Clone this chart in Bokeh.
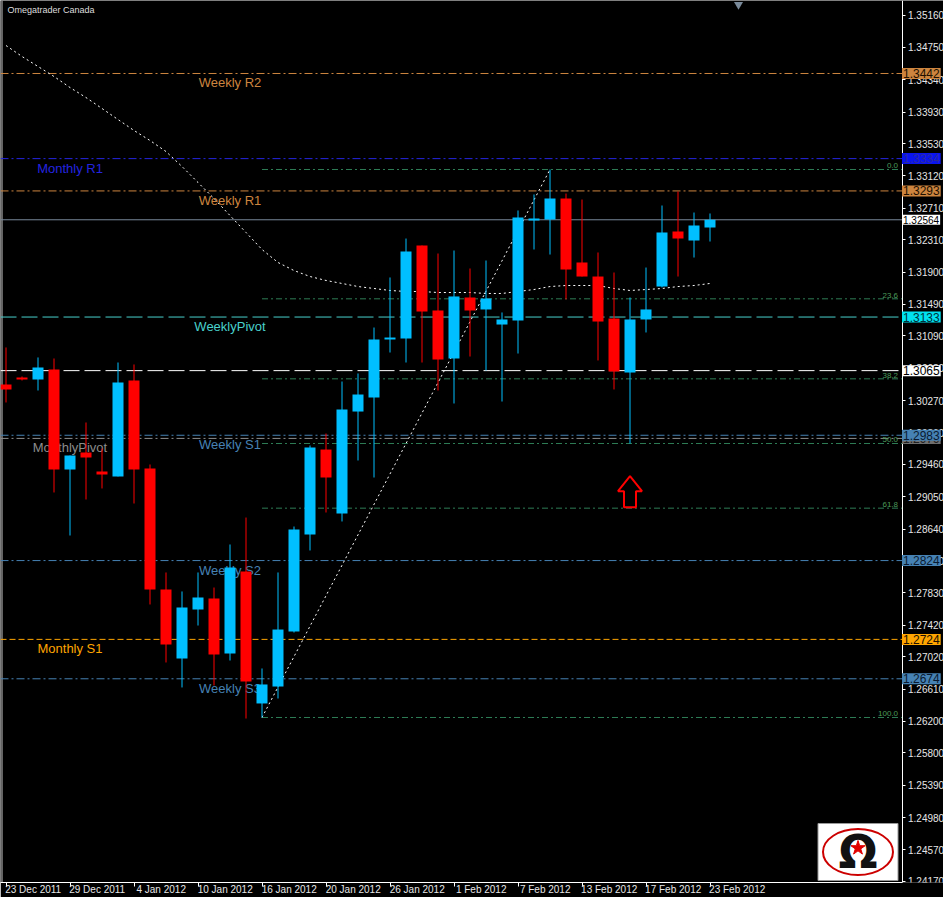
from bokeh.plotting import figure
from bokeh.models import Range1d, LinearAxis, FixedTicker, PrintfTickFormatter, Label, ColumnDataSource
from bokeh.core.properties import value
from bokeh.embed import file_html
from bokeh.resources import INLINE

# ---------------- data ----------------
date_labels = ["23 Dec 2011", "29 Dec 2011", "4 Jan 2012", "10 Jan 2012", "16 Jan 2012", "20 Jan 2012",
               "26 Jan 2012", "1 Feb 2012", "7 Feb 2012", "13 Feb 2012", "17 Feb 2012", "23 Feb 2012"]
date_bars = [0, 4, 8, 12, 16, 20, 24, 28, 32, 36, 40, 44]

opens = [1.30474, 1.30563, 1.30537, 1.30664, 1.29396, 1.29611, 1.29370, 1.29307, 1.30525, 1.29408,
         1.27873, 1.26998, 1.27619, 1.27759, 1.27061, 1.28101, 1.26427, 1.26642, 1.27340, 1.28571,
         1.29649, 1.28837, 1.30131, 1.30309, 1.31045, 1.31058, 1.32238, 1.31413, 1.30804, 1.31578,
         1.31426, 1.31235, 1.31286, 1.32555, 1.32568, 1.32834, 1.32022, 1.31844, 1.31311, 1.30626,
         1.31299, 1.31717, 1.32415, 1.32301, 1.32466]
highs = [1.30944, 1.30576, 1.30817, 1.30804, 1.29573, 1.29992, 1.29662, 1.30753, 1.30728, 1.29459,
         1.28089, 1.27848, 1.28089, 1.27898, 1.28444, 1.28786, 1.26871, 1.28089, 1.28672, 1.29700,
         1.29852, 1.30512, 1.30614, 1.31197, 1.31832, 1.32326, 1.32238, 1.32136, 1.32174, 1.31946,
         1.32047, 1.31388, 1.32682, 1.32885, 1.33202, 1.32897, 1.32821, 1.32149, 1.31895, 1.31578,
         1.31958, 1.32745, 1.32923, 1.32656, 1.32644]
lows = [1.30246, 1.30525, 1.30398, 1.29104, 1.28558, 1.29015, 1.29155, 1.29307, 1.28964, 1.27683,
        1.26947, 1.26630, 1.27416, 1.26655, 1.26972, 1.26236, 1.26249, 1.26490, 1.27327, 1.28368,
        1.28850, 1.28736, 1.29510, 1.29294, 1.30880, 1.30753, 1.30753, 1.30398, 1.30233, 1.30829,
        1.30652, 1.30258, 1.30867, 1.32187, 1.32123, 1.31553, 1.31844, 1.30779, 1.30411, 1.29725,
        1.31134, 1.31705, 1.31844, 1.32085, 1.32288]
closes = [1.30411, 1.30537, 1.30690, 1.29396, 1.29573, 1.29548, 1.29332, 1.30499, 1.29396, 1.27873,
          1.27175, 1.27645, 1.27771, 1.27048, 1.28152, 1.26706, 1.26668, 1.27365, 1.28634, 1.29675,
          1.29294, 1.30157, 1.30347, 1.31045, 1.31070, 1.32162, 1.31400, 1.30791, 1.31591, 1.31413,
          1.31565, 1.31299, 1.32593, 1.32580, 1.32834, 1.31933, 1.31844, 1.31273, 1.30639, 1.31299,
          1.31426, 1.32403, 1.32326, 1.32491, 1.32564]
moving_avg = [1.34775, 1.34636, 1.34509, 1.34382, 1.34242, 1.34115, 1.33976, 1.33836, 1.33697, 1.33570,
              1.33430, 1.33240, 1.33037, 1.32834, 1.32618, 1.32403, 1.32187, 1.32022, 1.31920, 1.31844,
              1.31794, 1.31756, 1.31717, 1.31692, 1.31667, 1.31654, 1.31654, 1.31641, 1.31641, 1.31641,
              1.31629, 1.31629, 1.31654, 1.31679, 1.31717, 1.31730, 1.31730, 1.31730, 1.31692, 1.31667,
              1.31679, 1.31692, 1.31717, 1.31730, 1.31756]

price_ticks = [1.35160, 1.34750, 1.34340, 1.33930, 1.33530, 1.33120, 1.32710, 1.32310, 1.31900, 1.31490,
               1.31090, 1.30680, 1.30270, 1.29860, 1.29460, 1.29050, 1.28640, 1.28230, 1.27830, 1.27420,
               1.27020, 1.26610, 1.26200, 1.25800, 1.25390, 1.24980, 1.24570, 1.24170]

level_names = ["Weekly R2", "Monthly R1", "Weekly R1", "WeeklyPivot", "MonthlyPivot",
               "Weekly S1", "Weekly S2", "Monthly S1", "Weekly S3"]
level_values = [1.3442, 1.3334, 1.3293, 1.3133, 1.2979, 1.2983, 1.2824, 1.2724, 1.2674]
level_colors = ["#CD853F", "#2424E0", "#CD853F", "#48D1CC", "#8C8C8C",
                "#4682B4", "#4682B4", "#FFA500", "#4682B4"]
level_dash = ["8 3 2 3", "8 3 2 3", "8 3 2 3", "16 5", "8 3 2 3",
              "8 3 2 3", "8 3 2 3", "6 3", "8 3 2 3"]
level_label_bar = [14, 4, 14, 14, 4, 14, 14, 4, 14]

hline_value = 1.3065
last_price = 1.32564

fib_ratios = [0.0, 23.6, 38.2, 50.0, 61.8, 100.0]
fib_low_bar = 16
fib_high_bar = 34

box_values = [1.3442, 1.3334, 1.3293, 1.32564, 1.3133, 1.3065, 1.2979, 1.2983, 1.2824, 1.2724, 1.2674]
box_texts = ["1.3442", "1.3334", "1.3293", "1.32564", "1.3133", "1.3065", "1.2979", "1.2983",
             "1.2824", "1.2724", "1.2674"]
box_fill = ["#CD853F", "#0A14F0", "#CD853F", "#FFFFFF", "#00E1F0", "#FFFFFF", "#6E6E6E", "#4682B4",
            "#4682B4", "#FFA500", "#4682B4"]
box_text_color = ["#201000", "#2A2AA0", "#201000", "#000000", "#003038", "#000000", "#202020", "#0A1A30",
                  "#0A1A30", "#201000", "#0A1A30"]

arrow_bar = 39
arrow_tip = 1.2931

# ---------------- figure ----------------
FRAME_W, FRAME_H = 943, 882
AXIS_PX = 901.5          # where the price scale line sits inside the frame
BAR_PX = 16
x0 = -5.5 / BAR_PX
x1 = x0 + FRAME_W / BAR_PX
x_axis = x0 + AXIS_PX / BAR_PX
py = 0.00012688
y_top = 1.353462
y_bot = y_top - FRAME_H * py

p = figure(frame_width=FRAME_W, frame_height=FRAME_H,
           x_range=Range1d(x0, x1), y_range=Range1d(y_bot, y_top),
           output_backend="svg", toolbar_location=None,
           x_axis_location=None, y_axis_location="right",
           background_fill_color="black", border_fill_color="black",
           min_border=0, outline_line_color=None)
p.grid.visible = False

yax = p.yaxis[0]
yax.fixed_location = x_axis
yax.ticker = FixedTicker(ticks=price_ticks)
yax.formatter = PrintfTickFormatter(format="%.5f")
yax.axis_line_color = "white"
yax.major_tick_line_color = "white"
yax.major_tick_out = 3
yax.major_tick_in = 0
yax.minor_tick_line_color = None
yax.major_label_text_color = "#E6E6E6"
yax.major_label_text_font = "Liberation Sans"
yax.major_label_text_font_size = "10px"
yax.major_label_standoff = 3

p.extra_x_ranges = {"datelab": Range1d(x0 - 1.7, x1 - 1.7)}
ax_ticks = LinearAxis(ticker=FixedTicker(ticks=date_bars),
                      major_label_overrides={b: "" for b in date_bars},
                      major_label_text_font_size="1px", major_label_standoff=0,
                      axis_line_color="white", major_tick_line_color="white",
                      major_tick_out=4, major_tick_in=0, minor_tick_line_color=None,
                      bounds=(x0, x_axis))
p.add_layout(ax_ticks, "below")
ax_dates = LinearAxis(x_range_name="datelab", ticker=FixedTicker(ticks=date_bars),
                      major_label_overrides=dict(zip(date_bars, date_labels)),
                      axis_line_color=None, major_tick_line_color=None,
                      major_tick_out=0, major_tick_in=0, minor_tick_line_color=None,
                      major_label_standoff=-3, major_label_text_color="#E6E6E6",
                      major_label_text_font="Liberation Sans", major_label_text_font_size="10px")
p.add_layout(ax_dates, "below")

# left frame border
p.segment(x0=[x0 + 1.5 / BAR_PX], y0=[y_bot], x1=[x0 + 1.5 / BAR_PX], y1=[y_top],
          line_color="#C8C8C8", line_width=1)

# level lines (stop at the price scale)
for v, c, d in zip(level_values, level_colors, level_dash):
    p.segment(x0=[x0], y0=[v], x1=[x_axis], y1=[v], line_color=c, line_dash=d, line_width=1)
p.segment(x0=[x0], y0=[hline_value], x1=[x_axis], y1=[hline_value], line_color="white",
          line_dash="16 5", line_width=1)
p.segment(x0=[x0], y0=[last_price], x1=[x_axis], y1=[last_price], line_color="#778899", line_width=1)

# fibonacci
fib_hi = highs[fib_high_bar]
fib_lo = lows[fib_low_bar]
fib_prices = [fib_hi - r / 100.0 * (fib_hi - fib_lo) for r in fib_ratios]
p.segment(x0=[fib_low_bar] * len(fib_prices), y0=fib_prices, x1=[x_axis] * len(fib_prices), y1=fib_prices,
          line_color="#2E7D55", line_dash="6 3 2 3", line_width=1)
p.text(x=[x_axis] * len(fib_prices), y=fib_prices, text=["%.1f" % r for r in fib_ratios],
       x_offset=-4, y_offset=-1, text_align="right", text_baseline="bottom",
       text_font=value("Liberation Sans"), text_font_size="8px", text_color="#4C9A5A")
p.line([fib_low_bar, fib_high_bar], [fib_lo, fib_hi], line_color="white", line_dash="2 3", line_width=1)

# level labels
lab_src = ColumnDataSource(dict(x=level_label_bar, y=level_values, text=level_names, color=level_colors))
p.text(x="x", y="y", text="text", text_color="color", source=lab_src, text_align="center",
       text_baseline="top", y_offset=2, text_font=value("Liberation Sans"), text_font_size="13px")

# moving average
idx = list(range(len(opens)))
p.line(idx, moving_avg, line_color="white", line_dash="2 3", line_width=1)

# candles
colors = ["#00BFFF" if c >= o else "#FF0000" for o, c in zip(opens, closes)]
src = ColumnDataSource(dict(x=idx, h=highs, l=lows,
                            top=[max(o, c) for o, c in zip(opens, closes)],
                            bottom=[min(o, c) for o, c in zip(opens, closes)],
                            color=colors))
p.segment(x0="x", y0="h", x1="x", y1="l", source=src, line_color="color", line_width=1)
p.vbar(x="x", width=11 / BAR_PX, top="top", bottom="bottom", source=src,
       fill_color="color", line_color=None)

# red outline arrow under the low
shape = [(0, 0), (12, 15), (6, 15), (6, 31), (-6, 31), (-6, 15), (-12, 15), (0, 0)]
p.patch([arrow_bar + dx / BAR_PX for dx, dy in shape], [arrow_tip - dy * py for dx, dy in shape],
        fill_color=None, line_color="#FF0000", line_width=2)

# header text and shift marker
p.text(x=[x0], y=[y_top], text=["Omegatrader Canada"], x_offset=7, y_offset=4, text_baseline="top",
       text_font=value("Liberation Sans"), text_font_size="9px", text_color="#DDDDDD")
p.scatter(x=[x0 + 738 / BAR_PX], y=[y_top - 4 * py], marker="inverted_triangle", size=9,
          fill_color="#7A8A9A", line_color=None)

# logo
lg_l, lg_r = x_axis - 84 / BAR_PX, x_axis - 4 / BAR_PX
lg_b, lg_t = y_bot + 2 * py, y_bot + 59 * py
p.quad(left=[lg_l], right=[lg_r], bottom=[lg_b], top=[lg_t], fill_color="white", line_color="#999999")
p.ellipse(x=[(lg_l + lg_r) / 2], y=[(lg_b + lg_t) / 2], width=70 / BAR_PX, height=46 * py,
          fill_color=None, line_color="#CC0000", line_width=2)
p.text(x=[(lg_l + lg_r) / 2], y=[(lg_b + lg_t) / 2], text=["Ω"], text_align="center", text_baseline="middle",
       text_font=value("DejaVu Sans"), text_font_size="46px", text_font_style="bold", text_color="#111111")
p.scatter(x=[(lg_l + lg_r) / 2], y=[(lg_b + lg_t) / 2 + 4 * py], marker="star", size=15,
          fill_color="#E00000", line_color="#E00000")

# price boxes on the right scale
for v, t, f, tc in zip(box_values, box_texts, box_fill, box_text_color):
    fs = "10px" if len(t) > 6 else "12px"
    p.add_layout(Label(x=x_axis, y=v, x_offset=0, text=t, text_align="left", text_baseline="middle",
                       text_font="Liberation Sans", text_font_size=fs, text_color=tc,
                       background_fill_color=f, padding=1))

open("out.html", "w").write(file_html(p, INLINE))
